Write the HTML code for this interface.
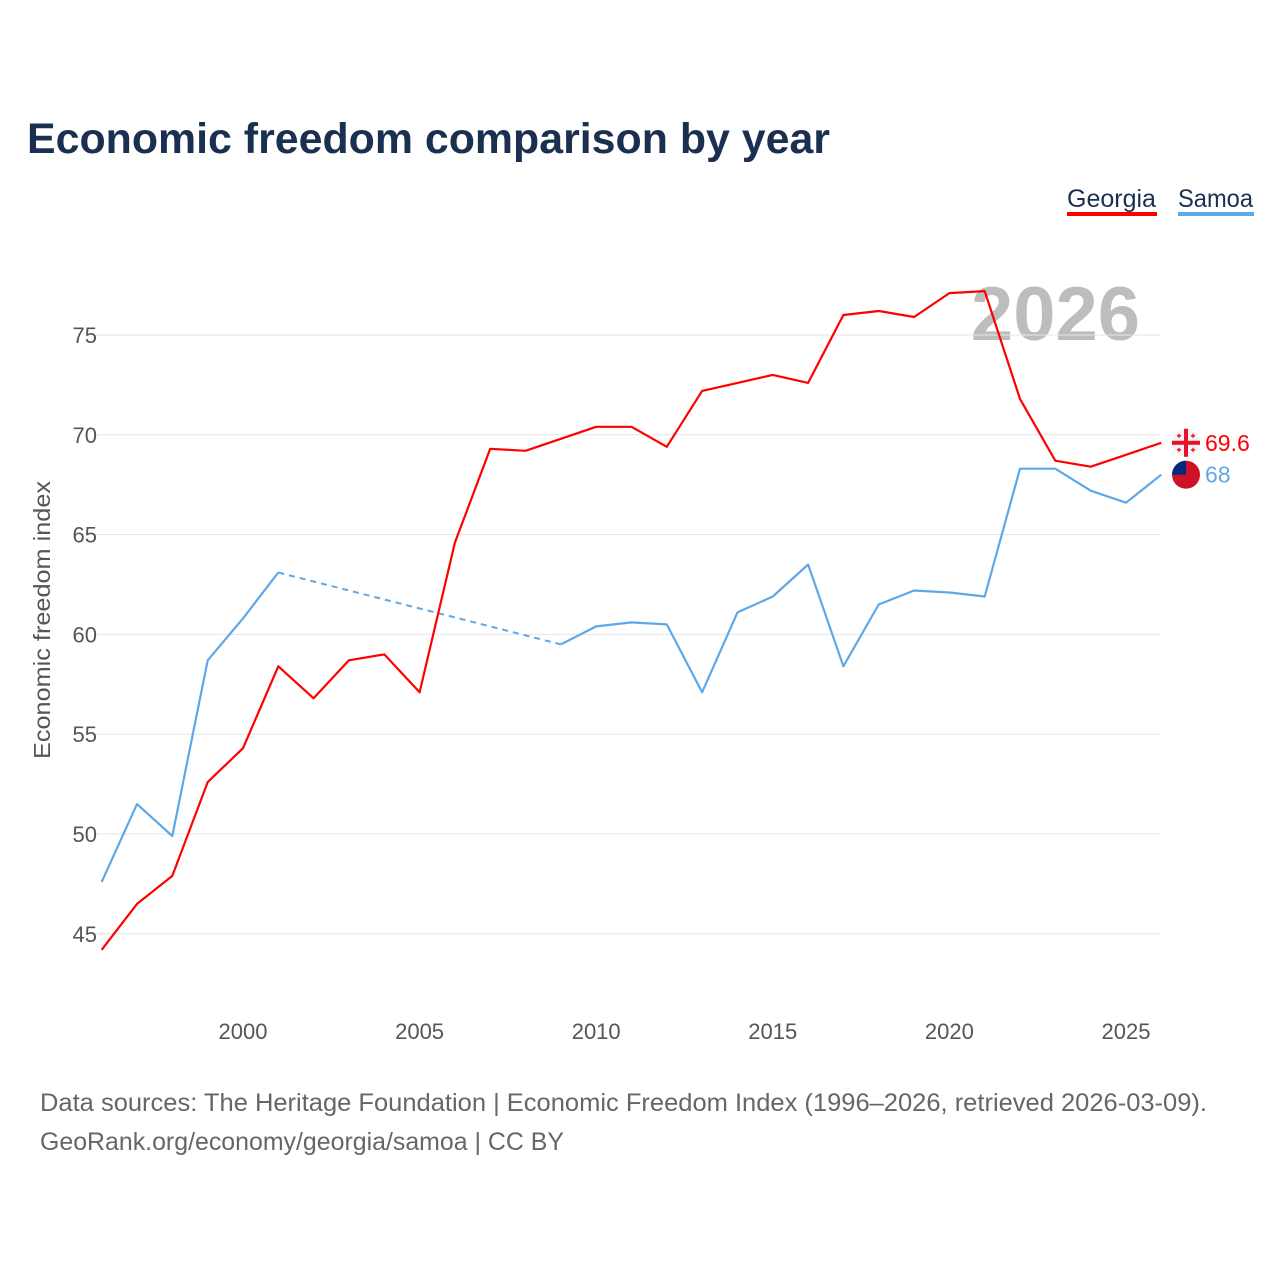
<!DOCTYPE html>
<html><head><meta charset="utf-8"><style>
body{margin:0;background:#fff;width:1280px;height:1280px;overflow:hidden;font-family:"Liberation Sans",sans-serif}
</style></head><body>
<svg width="1280" height="1280" xmlns="http://www.w3.org/2000/svg">
<text x="27" y="153" font-size="43" font-weight="bold" fill="#1b3050" textLength="803" lengthAdjust="spacingAndGlyphs">Economic freedom comparison by year</text>
<g><text x="1067" y="207" font-size="25" fill="#1b3050">Georgia</text><rect x="1067" y="212" width="90" height="4" fill="#ff0000"/></g>
<g><text x="1178" y="207" font-size="25" fill="#1b3050" textLength="75" lengthAdjust="spacingAndGlyphs">Samoa</text><rect x="1178" y="212" width="76" height="4" fill="#5fa8e8"/></g>
<text x="1140" y="340" font-size="76" font-weight="bold" fill="#bdbdbd" text-anchor="end">2026</text>
<text transform="translate(50,620) rotate(-90)" font-size="23" fill="#555" text-anchor="middle" textLength="278" lengthAdjust="spacingAndGlyphs">Economic freedom index</text>
<g id="grid"></g><g id="series"></g>
<text x="40" y="1111" font-size="25" fill="#666" textLength="1167" lengthAdjust="spacingAndGlyphs">Data sources: The Heritage Foundation | Economic Freedom Index (1996–2026, retrieved 2026-03-09).</text>
<text x="40" y="1150" font-size="25" fill="#666" textLength="524" lengthAdjust="spacingAndGlyphs">GeoRank.org/economy/georgia/samoa | CC BY</text>
</svg>
<script>
const years=[1996,1997,1998,1999,2000,2001,2002,2003,2004,2005,2006,2007,2008,2009,2010,2011,2012,2013,2014,2015,2016,2017,2018,2019,2020,2021,2022,2023,2024,2025,2026];
const georgia=[44.2,46.5,47.9,52.6,54.3,58.4,56.8,58.7,59.0,57.1,64.6,69.3,69.2,69.8,70.4,70.4,69.4,72.2,72.6,73.0,72.6,76.0,76.2,75.9,77.1,77.2,71.8,68.7,68.4,69.0,69.6];
const samoa=[47.6,51.5,49.9,58.7,60.8,63.1,null,null,null,null,null,null,null,59.5,60.4,60.6,60.5,57.1,61.1,61.9,63.5,58.4,61.5,62.2,62.1,61.9,68.3,68.3,67.2,66.6,68.0];
const yTicks=[45,50,55,60,65,70,75];
const xTicks=[2000,2005,2010,2015,2020,2025];
const NS='http://www.w3.org/2000/svg';
const x=y=>101.7+(y-1996)*35.32;
const yv=v=>335+(75-v)*19.96;
function mk(t,a,p){const e=document.createElementNS(NS,t);for(const k in a)e.setAttribute(k,a[k]);p.appendChild(e);return e;}
const g=document.getElementById('grid'),s=document.getElementById('series');
yTicks.forEach(v=>{
 const l=mk('line',{x1:95,x2:1161,y1:yv(v),y2:yv(v),stroke:'#e6e6e6','stroke-width':1},g);
 
 
 const t=mk('text',{x:97,y:yv(v)+8,'font-size':22,fill:'#555','text-anchor':'end'},g);t.textContent=v;
 
 
});
xTicks.forEach(v=>{
 const t=mk('text',{x:x(v),y:1039,'font-size':22,fill:'#555','text-anchor':'middle'},g);t.textContent=v;
 
 
});
function draw(vals,color,name){
 let d='',pen=false,last=null;
 vals.forEach((v,i)=>{
  if(v==null)return;
  if(last!=null && i-last>1){
   const dl=mk('line',{x1:x(years[last]),y1:yv(vals[last]),x2:x(years[i]),y2:yv(v),stroke:color,'stroke-width':2,'stroke-dasharray':'6,5'},s);
   
   
   pen=false;
  }
  d+=(pen?'L':'M')+x(years[i]).toFixed(1)+','+yv(v).toFixed(1);pen=true;last=i;
 });
 const p=mk('path',{d:d,fill:'none',stroke:color,'stroke-width':2.2,'stroke-linejoin':'round'},s);
 
 
}
draw(samoa,'#5fa8e8','samoa');
draw(georgia,'#ff0000','georgia');
const lg=years.length-1;
const gy=yv(georgia[lg]),sy=yv(samoa[lg]);
const gf=mk('g',{},s);


mk('circle',{cx:1186,cy:gy,r:14,fill:'#f2f2f2'},gf);
mk('rect',{x:1172,y:gy-2,width:28,height:4,fill:'#e8112d'},gf);
mk('rect',{x:1184,y:gy-14,width:4,height:28,fill:'#e8112d'},gf);
[[-7,-7],[7,-7],[-7,7],[7,7]].forEach(o=>{mk('rect',{x:1186+o[0]-2,y:gy+o[1]-0.7,width:4,height:1.4,fill:'#e8112d'},gf);mk('rect',{x:1186+o[0]-0.7,y:gy+o[1]-2,width:1.4,height:4,fill:'#e8112d'},gf);});
const gt=mk('text',{x:1205,y:gy+8,'font-size':23,fill:'#ff0000'},s);gt.textContent=georgia[lg];


const sf=mk('g',{},s);


mk('circle',{cx:1186,cy:sy,r:14,fill:'#ce1126'},sf);
mk('path',{d:`M1172,${sy} A14,14 0 0 1 1186,${sy-14} L1186,${sy} Z`,fill:'#002b7f'},sf);
const st=mk('text',{x:1205,y:sy+8,'font-size':23,fill:'#5fa8e8'},s);st.textContent=samoa[lg];


</script>
</body></html>
